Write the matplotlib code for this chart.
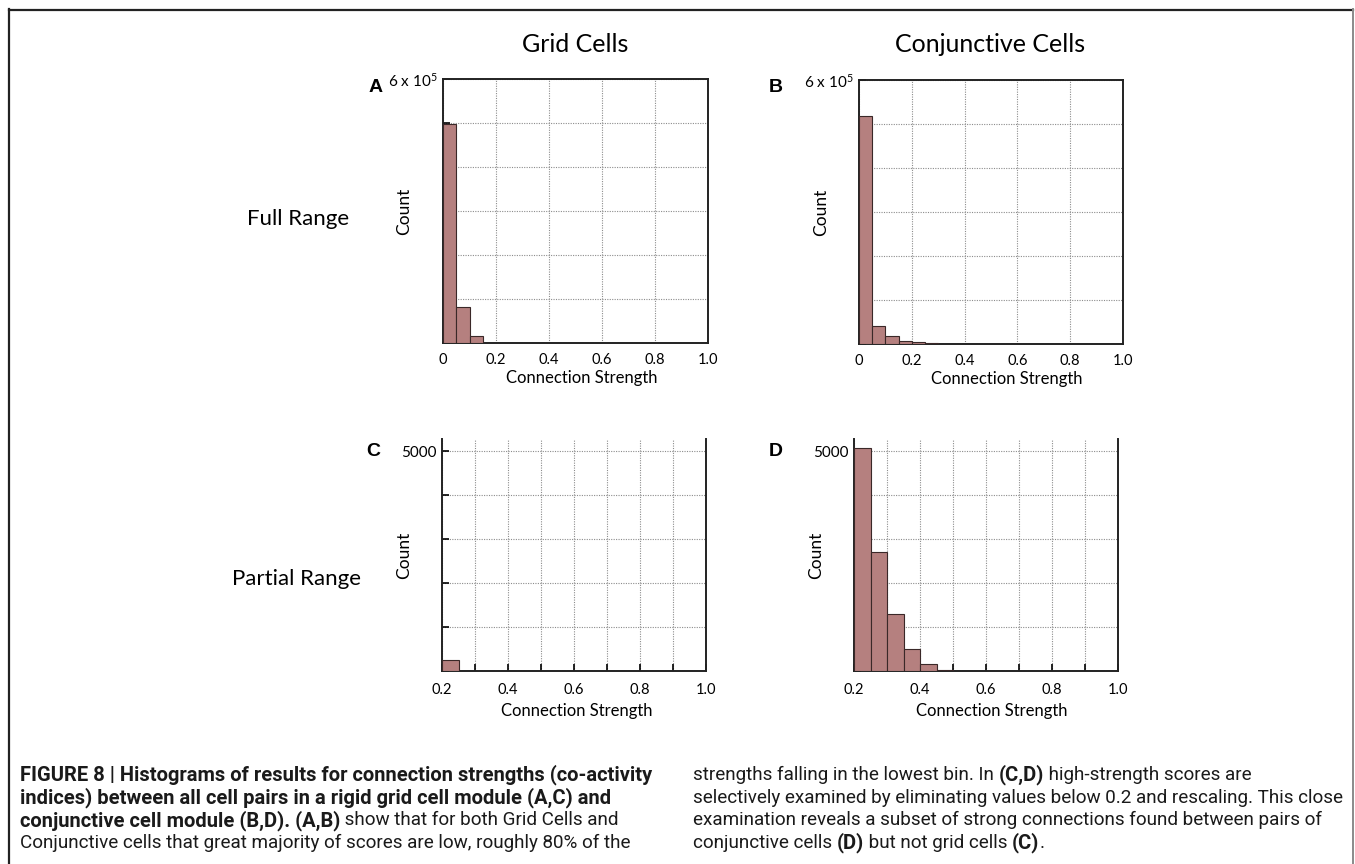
import matplotlib
matplotlib.use("Agg")
import matplotlib.pyplot as plt
from matplotlib.lines import Line2D

# histogram bins (left edges) and counts
bin_width = 0.05
grid_full_starts = [0.0, 0.05, 0.10]
grid_full_counts = [498000, 82000, 17000]
conj_full_starts = [0.0, 0.05, 0.10, 0.15, 0.20, 0.25]
conj_full_counts = [519000, 41000, 18000, 7000, 4000, 1500]
grid_part_starts = [0.20]
grid_part_counts = [240]
conj_part_starts = [0.20, 0.25, 0.30, 0.35, 0.40, 0.45]
conj_part_counts = [5080, 2700, 1290, 510, 170, 30]

full_xticks = [0, 0.2, 0.4, 0.6, 0.8, 1.0]
full_xlabels = ["0", "0.2", "0.4", "0.6", "0.8", "1.0"]
part_xticks = [0.2, 0.3, 0.4, 0.5, 0.6, 0.7, 0.8, 0.9, 1.0]
part_xlabels = ["0.2", "", "0.4", "", "0.6", "", "0.8", "", "1.0"]
full_yticks = [0, 1e5, 2e5, 3e5, 4e5, 5e5, 6e5]
full_ylabels = ["", "", "", "", "", "", "6 x 10$^5$"]
part_yticks = [0, 1000, 2000, 3000, 4000, 5000]
part_ylabels = ["", "", "", "", "", "5000"]

W, H = 1355, 864
FONT = "Lato"
CAPFONT = "Roboto"
plt.rcParams["font.family"] = [FONT, "DejaVu Sans"]
plt.rcParams["mathtext.fontset"] = "custom"
plt.rcParams["mathtext.rm"] = FONT
plt.rcParams["mathtext.it"] = FONT

fig = plt.figure(figsize=(W / 100, H / 100), dpi=100)


def fx(px):
    return px / W


def fy(py):
    return 1 - py / H


def axes_px(x0, x1, y0, y1):
    return fig.add_axes([fx(x0), fy(y1), (x1 - x0) / W, (y1 - y0) / H])


BAR = "#b5807f"
EDGE = "#3a2828"
SPINE = "#222222"


def style(ax, starts, counts, xlim, ylim, xt, xl, yt, yl, partial, xlab_x, xlab_y):
    ax.bar(starts, counts, width=bin_width, align="edge",
           color=BAR, edgecolor=EDGE, linewidth=0.8, zorder=3)
    ax.set_xlim(*xlim)
    ax.set_ylim(*ylim)
    ax.set_xticks(xt)
    ax.set_xticklabels(xl)
    ax.set_yticks(yt)
    ax.set_yticklabels(yl)
    ax.set_axisbelow(True)
    ax.grid(True, color="#8c8c8c", linestyle=(0, (1, 1.2)), linewidth=0.8)
    for s in ax.spines.values():
        s.set_linewidth(1.4)
        s.set_color(SPINE)
    if partial:
        ax.spines["top"].set_visible(False)
        ax.tick_params(axis="x", direction="in", length=5, width=1.2,
                       labelsize=10.5, pad=9)
    else:
        ax.tick_params(axis="x", length=0, labelsize=10.5, pad=7)
    ax.tick_params(axis="y", direction="in", length=5, width=1.2,
                   labelsize=11, pad=4)
    ax.set_xlabel("Connection Strength", fontsize=12, va="center")
    ax.xaxis.set_label_coords(xlab_x, xlab_y)
    ax.set_ylabel("Count", fontsize=12.5, va="center", ha="center")
    ax.yaxis.set_label_coords(-0.145, 0.5)


axA = axes_px(443, 708, 79, 343)
style(axA, grid_full_starts, grid_full_counts, (0, 1), (0, 6e5),
      full_xticks, full_xlabels, full_yticks, full_ylabels, False,
      0.523, -(378 - 343) / 264)
axB = axes_px(859, 1123, 80, 344)
style(axB, conj_full_starts, conj_full_counts, (0, 1), (0, 6e5),
      full_xticks, full_xlabels, full_yticks, full_ylabels, False,
      0.56, -(379 - 344) / 264)
axC = axes_px(442, 706, 439, 671)
style(axC, grid_part_starts, grid_part_counts, (0.2, 1.0), (0, 5280),
      part_xticks, part_xlabels, part_yticks, part_ylabels, True,
      0.51, -(711 - 671) / 232)
axD = axes_px(854, 1118, 439, 671)
style(axD, conj_part_starts, conj_part_counts, (0.2, 1.0), (0, 5280),
      part_xticks, part_xlabels, part_yticks, part_ylabels, True,
      0.523, -(711 - 671) / 232)

# column / row headings and panel letters
fig.text(fx(575), fy(45), "Grid Cells", fontsize=18, ha="center", va="center")
fig.text(fx(990), fy(45), "Conjunctive Cells", fontsize=18, ha="center", va="center")
fig.text(fx(298), fy(219), "Full Range", fontsize=16, ha="center", va="center")
fig.text(fx(297), fy(579), "Partial Range", fontsize=16, ha="center", va="center")
for letter, x, y in [("A", 376, 88), ("B", 776, 88), ("C", 373, 452), ("D", 776, 452)]:
    fig.text(fx(x), fy(y), letter, fontsize=14, fontweight="bold",
             family=["Liberation Sans", "DejaVu Sans"], ha="center", va="center")

# frame round the figure
fig.add_artist(Line2D([fx(9), fx(1353)], [fy(9.5), fy(9.5)], color="#222222", lw=1.6))
fig.add_artist(Line2D([fx(9), fx(9)], [fy(9), 0], color="#222222", lw=1.6))
fig.add_artist(Line2D([fx(1353), fx(1353)], [fy(9), 0], color="#8a8a8a", lw=1.4))

# caption with mixed bold and regular runs
renderer = fig.canvas.get_renderer()
SIZE_BOLD = 14.5
SIZE_REG = 13.6


def runs(x_px, y_px, parts):
    x = fx(x_px)
    for s, bold in parts:
        t = fig.text(x, fy(y_px), s, family=CAPFONT,
                     fontsize=SIZE_BOLD if bold else SIZE_REG,
                     fontweight="bold" if bold else "normal",
                     ha="left", va="center", color="#1a1a1a")
        x += t.get_window_extent(renderer=renderer).width / W


left_lines = [
    [("FIGURE 8 | Histograms of results for connection strengths (co-activity", True)],
    [("indices) between all cell pairs in a rigid grid cell module (A,C) and", True)],
    [("conjunctive cell module (B,D). (A,B)", True),
     (" show that for both Grid Cells and", False)],
    [("Conjunctive cells that great majority of scores are low, roughly 80% of the", False)],
]
right_lines = [
    [("strengths falling in the lowest bin. In ", False), ("(C,D)", True),
     (" high-strength scores are", False)],
    [("selectively examined by eliminating values below 0.2 and rescaling. This close", False)],
    [("examination reveals a subset of strong connections found between pairs of", False)],
    [("conjunctive cells ", False), ("(D)", True), (" but not grid cells ", False),
     ("(C)", True), (".", False)],
]
for i, line in enumerate(left_lines):
    runs(20, 775 + 22.7 * i, line)
for i, line in enumerate(right_lines):
    runs(693, 775 + 22.7 * i, line)

fig.savefig("out.png", dpi=100)
